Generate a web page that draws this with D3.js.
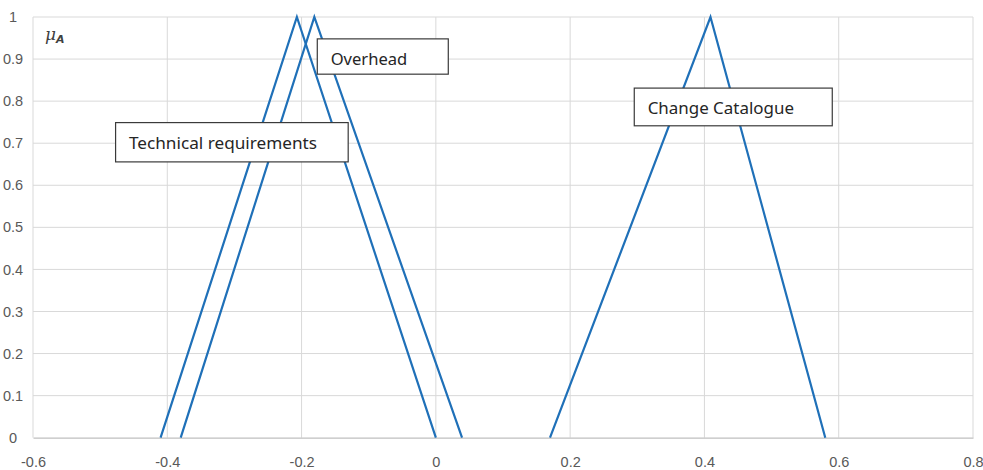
<!DOCTYPE html>
<html>
<head>
<meta charset="utf-8">
<script src="https://cdn.jsdelivr.net/npm/d3@7/dist/d3.min.js"></script>
<style>
  html, body { margin: 0; padding: 0; background: #fff; }
  svg { display: block; }
</style>
</head>
<body>
<svg id="chart" width="983" height="470"></svg>
<script>
// ---- data ----
const seriesNames = ["Technical requirements", "Overhead", "Change Catalogue"];
const techX = [-0.41, -0.207, 0.0];
const techY = [0, 1, 0];
const overheadX = [-0.38, -0.181, 0.039];
const overheadY = [0, 1, 0];
const changeX = [0.17, 0.409, 0.58];
const changeY = [0, 1, 0];
const xTicks = [-0.6, -0.4, -0.2, 0, 0.2, 0.4, 0.6, 0.8];
const yTicks = [0, 0.1, 0.2, 0.3, 0.4, 0.5, 0.6, 0.7, 0.8, 0.9, 1];

// ---- layout ----
const W = 983, H = 470;
const margin = {left: 33, right: 10, top: 17, bottom: 32.3};
const svg = d3.select("#chart");
const x = d3.scaleLinear().domain([-0.6, 0.8]).range([margin.left, W - margin.right]);
const y = d3.scaleLinear().domain([0, 1]).range([H - margin.bottom, margin.top]);

const fmt = d => d === 0 ? "0" : (d === 1 ? "1" : String(d));

// gridlines
const grid = svg.append("g");
grid.selectAll("line.v").data(xTicks).join("line")
  .attr("x1", d => x(d)).attr("x2", d => x(d))
  .attr("y1", y(0)).attr("y2", y(1))
  .attr("stroke", "#d9d9d9").attr("stroke-width", 1);
grid.selectAll("line.h").data(yTicks.filter(d => d > 0)).join("line")
  .attr("x1", x(-0.6)).attr("x2", x(0.8))
  .attr("y1", d => y(d)).attr("y2", d => y(d))
  .attr("stroke", "#d9d9d9").attr("stroke-width", 1);

// bottom axis
const xAxis = d3.axisBottom(x).tickValues(xTicks).tickSize(0).tickPadding(19).tickFormat(fmt);
const gx = svg.append("g").attr("transform", `translate(0,${y(0)})`).call(xAxis);
gx.select(".domain").attr("stroke", "#bfbfbf").attr("stroke-width", 1.2);
gx.selectAll("text").attr("font-family", "Liberation Sans, Arial, sans-serif")
  .attr("font-size", 14.5).attr("fill", "#595959");

// left axis labels
const yAxis = d3.axisLeft(y).tickValues(yTicks).tickSize(0).tickPadding(0).tickFormat(fmt);
const gy = svg.append("g").attr("transform", `translate(${margin.left},0)`).call(yAxis);
gy.select(".domain").remove();
gy.selectAll("text").attr("font-family", "Liberation Sans, Arial, sans-serif")
  .attr("font-size", 14.5).attr("fill", "#595959")
  .attr("text-anchor", "middle").attr("x", -20);

// series lines
const series = [
  {name: seriesNames[0], xs: techX, ys: techY},
  {name: seriesNames[1], xs: overheadX, ys: overheadY},
  {name: seriesNames[2], xs: changeX, ys: changeY}
];
const line = d3.line().x(d => x(d[0])).y(d => y(d[1]));
svg.append("g").selectAll("path").data(series).join("path")
  .attr("d", s => line(d3.zip(s.xs, s.ys)))
  .attr("fill", "none").attr("stroke", "#1f70b8").attr("stroke-width", 2.2)
  .attr("stroke-linejoin", "miter");

// mu_A label
const mu = svg.append("text").attr("x", 45).attr("y", 40)
  .attr("font-family", "DejaVu Serif, serif").attr("font-style", "italic")
  .attr("font-size", 17).attr("fill", "#404040");
mu.append("tspan").text("μ");
mu.append("tspan").attr("dy", 3).attr("font-size", 11).attr("font-weight", "bold")
  .attr("font-family", "DejaVu Sans, sans-serif").text("A");

// annotation boxes (anchored in data coordinates)
const boxes = [
  {text: seriesNames[0], bx: -0.477, by: 0.749, w: 232.6, h: 39.3, tw: 188},
  {text: seriesNames[1], bx: -0.1766, by: 0.948, w: 131, h: 35.3, tw: 76.6},
  {text: seriesNames[2], bx: 0.2955, by: 0.831, w: 198, h: 37.7, tw: 146.3}
];
const bg = svg.append("g").selectAll("g").data(boxes).join("g")
  .attr("transform", d => `translate(${x(d.bx)},${y(d.by)})`);
bg.append("rect").attr("width", d => d.w).attr("height", d => d.h)
  .attr("fill", "#fff").attr("stroke", "#3a3a3a").attr("stroke-width", 1.2);
bg.append("text").attr("x", 13.4).attr("y", 26.2)
  .attr("font-family", "Noto Sans, Open Sans, sans-serif")
  .attr("font-size", 16).attr("fill", "#262626")
  .attr("textLength", d => d.tw).attr("lengthAdjust", "spacingAndGlyphs")
  .text(d => d.text);
</script>
</body>
</html>
